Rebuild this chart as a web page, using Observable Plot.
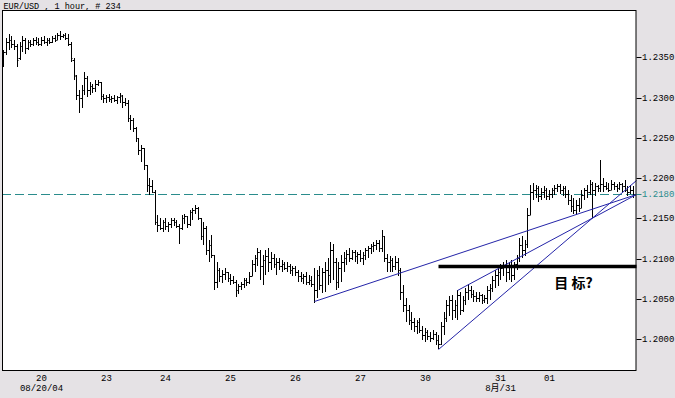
<!DOCTYPE html>
<html><head><meta charset="utf-8">
<style>html,body{margin:0;padding:0;background:#e5e2e5;} svg{display:block}</style>
<script src="https://cdn.jsdelivr.net/npm/d3@7"></script>
<script src="https://cdn.jsdelivr.net/npm/@observablehq/plot@0.6"></script>
</head><body><div id="chart"></div>
<script>
const title = "EUR/USD , 1 hour, # 234";
const opens = [
1.2344,1.2357,1.2369,1.2371,1.2366,1.2364,1.2349,1.2364,1.2371,1.2361,
1.2369,1.2366,1.2371,1.2369,1.2366,1.2371,1.2369,1.2371,1.2369,1.2374,
1.2371,1.2378,1.2376,1.2378,1.2374,1.2366,1.2347,1.2327,1.2303,1.2299,
1.2309,1.2324,1.2309,1.2314,1.2312,1.2317,1.2319,1.2302,1.2299,1.2301,
1.2298,1.2299,1.2297,1.2301,1.2302,1.2294,1.2293,1.2275,1.2272,1.2262,
1.2250,1.2235,1.2237,1.2216,1.2192,1.2190,1.2183,1.2146,1.2142,1.2138,
1.2146,1.2141,1.2143,1.2148,1.2146,1.2141,1.2138,1.2150,1.2153,1.2143,
1.2158,1.2160,1.2163,1.2150,1.2128,1.2138,1.2111,1.2117,1.2105,1.2071,
1.2086,1.2079,1.2081,1.2084,1.2076,1.2074,1.2071,1.2061,1.2066,1.2069,
1.2074,1.2071,1.2079,1.2093,1.2101,1.2108,1.2091,1.2098,1.2103,1.2096,
1.2101,1.2093,1.2096,1.2091,1.2093,1.2088,1.2091,1.2086,1.2088,1.2084,
1.2079,1.2076,1.2079,1.2071,1.2074,1.2069,1.2061,1.2080,1.2067,1.2084,
1.2086,1.2080,1.2111,1.2096,1.2071,1.2088,1.2096,1.2101,1.2106,1.2101,
1.2108,1.2103,1.2106,1.2101,1.2105,1.2111,1.2113,1.2116,1.2117,1.2120,
1.2113,1.2128,1.2101,1.2096,1.2098,1.2091,1.2096,1.2086,1.2059,1.2043,
1.2036,1.2024,1.2022,1.2017,1.2022,1.2012,1.2005,1.2009,1.2004,1.2002,
1.2007,1.1999,1.1994,1.2017,1.2026,1.2043,1.2049,1.2036,1.2043,1.2055,
1.2036,1.2049,1.2059,1.2061,1.2056,1.2054,1.2051,1.2055,1.2049,1.2051,
1.2061,1.2064,1.2074,1.2080,1.2084,1.2088,1.2091,1.2084,1.2091,1.2080,
1.2093,1.2101,1.2117,1.2111,1.2118,1.2154,1.2183,1.2185,1.2188,1.2178,
1.2183,1.2185,1.2178,1.2180,1.2185,1.2188,1.2190,1.2185,1.2188,1.2180,
1.2173,1.2165,1.2160,1.2167,1.2163,1.2179,1.2185,1.2183,1.2193,1.2185,
1.2190,1.2188,1.2193,1.2190,1.2188,1.2185,1.2193,1.2190,1.2188,1.2193,
1.2190,1.2185,1.2183,1.2185];
const highs = [
1.2359,1.2374,1.2379,1.2376,1.2371,1.2366,1.2369,1.2376,1.2374,1.2371,
1.2371,1.2374,1.2375,1.2374,1.2375,1.2376,1.2374,1.2374,1.2376,1.2378,
1.2380,1.2382,1.2379,1.2380,1.2379,1.2369,1.2349,1.2328,1.2309,1.2316,
1.2332,1.2327,1.2319,1.2317,1.2322,1.2322,1.2319,1.2304,1.2303,1.2304,
1.2302,1.2303,1.2302,1.2306,1.2303,1.2299,1.2297,1.2278,1.2275,1.2263,
1.2250,1.2241,1.2237,1.2216,1.2200,1.2198,1.2185,1.2154,1.2150,1.2148,
1.2150,1.2146,1.2150,1.2150,1.2148,1.2143,1.2154,1.2155,1.2153,1.2160,
1.2163,1.2167,1.2164,1.2150,1.2146,1.2141,1.2123,1.2129,1.2105,1.2096,
1.2088,1.2086,1.2088,1.2084,1.2081,1.2079,1.2074,1.2069,1.2071,1.2076,
1.2076,1.2084,1.2098,1.2105,1.2113,1.2111,1.2105,1.2111,1.2113,1.2108,
1.2106,1.2101,1.2101,1.2098,1.2096,1.2096,1.2093,1.2091,1.2091,1.2086,
1.2084,1.2081,1.2084,1.2080,1.2079,1.2088,1.2086,1.2091,1.2088,1.2096,
1.2101,1.2121,1.2118,1.2101,1.2096,1.2105,1.2108,1.2111,1.2113,1.2111,
1.2111,1.2108,1.2111,1.2108,1.2113,1.2116,1.2118,1.2121,1.2123,1.2123,
1.2136,1.2128,1.2106,1.2103,1.2101,1.2103,1.2101,1.2088,1.2067,1.2051,
1.2043,1.2034,1.2026,1.2024,1.2026,1.2017,1.2014,1.2012,1.2009,1.2012,
1.2009,1.2005,1.2022,1.2034,1.2049,1.2054,1.2055,1.2049,1.2061,1.2059,
1.2054,1.2064,1.2069,1.2066,1.2061,1.2059,1.2059,1.2056,1.2055,1.2066,
1.2069,1.2079,1.2086,1.2088,1.2093,1.2096,1.2098,1.2096,1.2098,1.2096,
1.2105,1.2126,1.2128,1.2123,1.2163,1.2192,1.2194,1.2192,1.2190,1.2188,
1.2190,1.2188,1.2185,1.2188,1.2192,1.2193,1.2193,1.2190,1.2190,1.2185,
1.2179,1.2175,1.2173,1.2175,1.2185,1.2188,1.2192,1.2198,1.2195,1.2194,
1.2192,1.2223,1.2200,1.2195,1.2194,1.2198,1.2195,1.2193,1.2195,1.2194,
1.2198,1.2190,1.2192,1.2190];
const lows = [
1.2338,1.2353,1.2359,1.2361,1.2359,1.2338,1.2347,1.2357,1.2354,1.2359,
1.2363,1.2364,1.2365,1.2364,1.2364,1.2366,1.2364,1.2366,1.2368,1.2369,
1.2371,1.2371,1.2374,1.2371,1.2364,1.2344,1.2322,1.2297,1.2281,1.2287,
1.2303,1.2301,1.2303,1.2306,1.2307,1.2314,1.2297,1.2293,1.2293,1.2294,
1.2293,1.2294,1.2292,1.2293,1.2287,1.2290,1.2270,1.2260,1.2257,1.2245,
1.2229,1.2220,1.2210,1.2183,1.2179,1.2182,1.2142,1.2133,1.2136,1.2133,
1.2136,1.2133,1.2138,1.2141,1.2138,1.2118,1.2136,1.2143,1.2138,1.2141,
1.2148,1.2155,1.2148,1.2123,1.2117,1.2105,1.2096,1.2101,1.2061,1.2064,
1.2071,1.2070,1.2074,1.2071,1.2067,1.2069,1.2053,1.2056,1.2061,1.2064,
1.2066,1.2069,1.2079,1.2084,1.2091,1.2074,1.2067,1.2080,1.2084,1.2086,
1.2088,1.2080,1.2086,1.2084,1.2086,1.2084,1.2081,1.2079,1.2079,1.2071,
1.2071,1.2069,1.2067,1.2067,1.2065,1.2045,1.2051,1.2061,1.2057,1.2059,
1.2067,1.2070,1.2074,1.2061,1.2064,1.2071,1.2084,1.2092,1.2096,1.2098,
1.2096,1.2093,1.2096,1.2092,1.2098,1.2101,1.2106,1.2108,1.2111,1.2108,
1.2108,1.2096,1.2084,1.2084,1.2084,1.2086,1.2079,1.2049,1.2034,1.2022,
1.2018,1.2012,1.2009,1.2007,1.2008,1.1999,1.1997,1.1999,1.1997,1.1999,
1.1993,1.1988,1.1993,1.2005,1.2022,1.2029,1.2024,1.2026,1.2024,1.2030,
1.2034,1.2043,1.2049,1.2051,1.2046,1.2046,1.2046,1.2044,1.2045,1.2044,
1.2049,1.2059,1.2064,1.2066,1.2074,1.2079,1.2071,1.2074,1.2071,1.2074,
1.2086,1.2096,1.2101,1.2103,1.2113,1.2154,1.2173,1.2175,1.2170,1.2173,
1.2175,1.2173,1.2173,1.2175,1.2179,1.2183,1.2180,1.2178,1.2175,1.2167,
1.2158,1.2155,1.2154,1.2158,1.2163,1.2173,1.2175,1.2179,1.2150,1.2178,
1.2183,1.2183,1.2183,1.2185,1.2183,1.2185,1.2185,1.2183,1.2185,1.2183,
1.2183,1.2178,1.2180,1.2175];
const closes = [
1.2357,1.2369,1.2371,1.2366,1.2364,1.2347,1.2364,1.2371,1.2361,1.2369,
1.2366,1.2371,1.2369,1.2366,1.2371,1.2369,1.2371,1.2369,1.2374,1.2371,
1.2378,1.2376,1.2378,1.2374,1.2366,1.2349,1.2328,1.2303,1.2299,1.2309,
1.2324,1.2309,1.2314,1.2312,1.2317,1.2319,1.2302,1.2299,1.2301,1.2298,
1.2299,1.2297,1.2301,1.2303,1.2294,1.2293,1.2275,1.2272,1.2262,1.2250,
1.2235,1.2237,1.2216,1.2192,1.2190,1.2183,1.2146,1.2142,1.2138,1.2146,
1.2141,1.2143,1.2148,1.2146,1.2141,1.2138,1.2150,1.2153,1.2143,1.2158,
1.2160,1.2163,1.2150,1.2128,1.2138,1.2111,1.2117,1.2105,1.2071,1.2086,
1.2079,1.2081,1.2084,1.2076,1.2074,1.2071,1.2061,1.2066,1.2069,1.2074,
1.2071,1.2079,1.2093,1.2101,1.2108,1.2091,1.2098,1.2103,1.2096,1.2101,
1.2093,1.2096,1.2091,1.2093,1.2088,1.2091,1.2086,1.2088,1.2084,1.2079,
1.2076,1.2079,1.2071,1.2074,1.2069,1.2061,1.2080,1.2067,1.2084,1.2086,
1.2080,1.2111,1.2096,1.2071,1.2088,1.2096,1.2101,1.2106,1.2101,1.2108,
1.2103,1.2106,1.2101,1.2105,1.2111,1.2113,1.2116,1.2117,1.2120,1.2113,
1.2128,1.2101,1.2096,1.2098,1.2091,1.2096,1.2086,1.2059,1.2043,1.2036,
1.2024,1.2022,1.2017,1.2022,1.2012,1.2005,1.2009,1.2004,1.2002,1.2007,
1.1999,1.1994,1.2017,1.2026,1.2043,1.2049,1.2036,1.2043,1.2055,1.2036,
1.2049,1.2059,1.2061,1.2056,1.2054,1.2051,1.2055,1.2049,1.2051,1.2061,
1.2064,1.2074,1.2080,1.2084,1.2088,1.2091,1.2084,1.2091,1.2080,1.2093,
1.2101,1.2117,1.2111,1.2118,1.2154,1.2183,1.2185,1.2188,1.2178,1.2183,
1.2185,1.2178,1.2180,1.2185,1.2188,1.2190,1.2185,1.2188,1.2180,1.2173,
1.2165,1.2160,1.2167,1.2163,1.2179,1.2185,1.2183,1.2193,1.2185,1.2190,
1.2188,1.2193,1.2190,1.2188,1.2185,1.2193,1.2190,1.2188,1.2193,1.2190,
1.2185,1.2183,1.2185,1.2180];

const dayTickIndex = [14, 38, 60, 84, 108, 132, 156, 184, 202];
const dayTickLabel = ["20", "23", "24", "25", "26", "27", "30", "31", "01"];
const dateTickIndex = [14, 184];
const dateTickLabel = ["08/20/04", "8月/31"];
const priceTicks = [1.2000, 1.2050, 1.2100, 1.2150, 1.2200, 1.2250, 1.2300, 1.2350];
const lastPrice = 1.2180;
const trendStartIdx = [115, 161, 168];
const trendStartPrice = [1.2048, 1.1988, 1.2061];
const trendEndIdx = [234, 234, 234];
const trendEndPrice = [1.2180, 1.2198, 1.2180];
const targetLevel = 1.2091;
const targetStartIdx = 161;
const targetEndIdx = 234;
const targetText = "目 标?";
const targetTextIdx = 211;
const targetTextPrice = 1.2070;

const bars = opens.map((o, i) => ({i, open: o, high: highs[i], low: lows[i], close: closes[i]}));
const trends = trendStartIdx.map((s, k) => ({x1: s, y1: trendStartPrice[k], x2: trendEndIdx[k], y2: trendEndPrice[k]}));
const target = [{x1: targetStartIdx, x2: targetEndIdx, y: targetLevel}];

const teal = "#2a8c8c";
const mono = "'Liberation Mono', 'DejaVu Sans Mono', 'Noto Sans CJK SC', monospace";

const chart = Plot.plot({
  width: 675,
  height: 398,
  marginLeft: 2,
  marginRight: 39.5,
  marginTop: 10,
  marginBottom: 28,
  style: {background: "#e5e2e5", fontFamily: mono, fontSize: "9px", color: "black", overflow: "visible"},
  x: {domain: [-0.5, 234], axis: null, round: true},
  y: {domain: [1.19619, 1.24086], axis: null, round: true},
  marks: [
    Plot.frame({fill: "white", stroke: "none"}),
    Plot.ruleY([lastPrice], {stroke: teal, strokeWidth: 1, strokeDasharray: "9,4"}),
    Plot.ruleX(bars, {x: "i", y1: "low", y2: "high", stroke: "black", strokeWidth: 1}),
    Plot.link(bars, {x1: d => d.i - 0.55, x2: "i", y1: "open", y2: "open", stroke: "black"}),
    Plot.link(bars, {x1: "i", x2: d => d.i + 0.55, y1: "close", y2: "close", stroke: "black"}),
    Plot.link(trends, {x1: "x1", y1: "y1", x2: "x2", y2: "y2", stroke: "#2424a8", strokeWidth: 1}),
    Plot.link(target, {x1: "x1", x2: "x2", y1: "y", y2: "y", stroke: "black", strokeWidth: 3.5}),
    Plot.text([targetText], {x: targetTextIdx, y: targetTextPrice, text: d => d, fontFamily: "'Noto Sans CJK SC', sans-serif", fontWeight: "bold", fontSize: 14, fill: "black"}),
    Plot.frame({stroke: "black", fill: "none"}),
    Plot.axisY(priceTicks, {anchor: "right", tickSize: 5, tickPadding: 1, tickFormat: d => d.toFixed(4), fontSize: 9}),
    Plot.axisY([lastPrice], {anchor: "right", tickSize: 5, tickPadding: 1, tickFormat: d => d.toFixed(4), fontSize: 9, color: teal}),
    Plot.text(dayTickIndex, {x: d => d, text: (d, k) => dayTickLabel[k], frameAnchor: "bottom", dy: 8, lineAnchor: "middle", fontSize: 9}),
    Plot.text(dateTickIndex, {x: d => d, text: (d, k) => dateTickLabel[k], frameAnchor: "bottom", dy: 18, lineAnchor: "middle", fontSize: 9}),
    Plot.text([title], {frameAnchor: "top-left", text: d => d, dx: 1, dy: -4.5, lineAnchor: "middle", textAnchor: "start", fontSize: 8.5})
  ]
});
document.getElementById("chart").append(chart);
</script>
</body></html>
